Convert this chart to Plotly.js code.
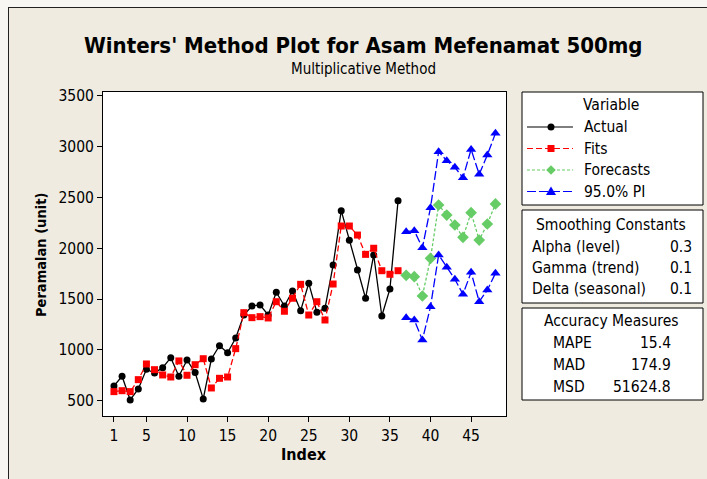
<!DOCTYPE html>
<html>
<head>
<meta charset="utf-8">
<script src="https://cdn.plot.ly/plotly-3.0.1.min.js"></script>
<style>
  html, body { margin: 0; padding: 0; background: #F7F6F2; }
  #frame { position: absolute; left: 8px; top: 7px; width: 720px; height: 490px;
           background: #EFEBE1; border: 1.5px solid #222; }
  #chart { position: absolute; left: 0; top: 0; width: 707px; height: 479px; }
</style>
</head>
<body>
<div id="frame"></div>
<div id="chart"></div>
<script>
// ---- data ----
const actualIdx = [1,2,3,4,5,6,7,8,9,10,11,12,13,14,15,16,17,18,19,20,21,22,23,24,25,26,27,28,29,30,31,32,33,34,35,36];
const actual = [645,740,507,615,809,772,825,923,740,900,776,517,910,1041,972,1117,1343,1432,1442,1343,1567,1432,1579,1386,1655,1370,1409,1835,2370,2078,1786,1508,1934,1333,1599,2468];
const fits = [589,598,589,707,861,805,753,733,891,750,854,913,625,720,733,1012,1366,1317,1327,1314,1474,1380,1508,1645,1343,1474,1294,1648,2219,2219,2130,1940,2000,1779,1744,1779];
const forecastIdx = [37,38,39,40,41,42,43,44,45,46,47,48];
const forecasts = [1734,1720,1530,1901,2426,2327,2229,2108,2350,2081,2239,2436];
const upperPI = [2163,2173,2005,2399,2950,2862,2797,2694,2973,2728,2918,3131];
const lowerPI = [1317,1294,1097,1425,1934,1813,1695,1547,1763,1474,1589,1754];
const xTicks = [1,5,10,15,20,25,30,35,40,45];
const yTicks = [500,1000,1500,2000,2500,3000,3500];
const smoothingLabels = ["Alpha (level)","Gamma (trend)","Delta (seasonal)"];
const smoothingValues = ["0.3","0.1","0.1"];
const accuracyLabels = ["MAPE","MAD","MSD"];
const accuracyValues = ["15.4","174.9","51624.8"];
const seriesNames = ["Actual","Fits","Forecasts","95.0% PI"];

// ---- styles ----
const FONT = "'DejaVu Sans Condensed', 'DejaVu Sans', sans-serif";
const C_ACT = "#000000", C_FIT = "#FF0000", C_FC = "#66CC66", C_PI = "#0000FF";
const D_FIT = "6px,3px", D_FC = "3px,2px", D_PI = "9px,3px";
const BOXFONT = 15.5;

// plot area in pixels
const L = 103, R = 506, T = 92, B = 416, W = 707, H = 479;
const px = x => (x - L) / (R - L);
const py = y => (B - y) / (B - T);

const traces = [
  {x: actualIdx, y: actual, mode: 'lines+markers', name: seriesNames[0],
   line: {color: C_ACT, width: 1.3}, marker: {symbol: 'circle', size: 7, color: C_ACT}},
  {x: actualIdx, y: fits, mode: 'lines+markers', name: seriesNames[1],
   line: {color: C_FIT, width: 1.3, dash: D_FIT}, marker: {symbol: 'square', size: 7, color: C_FIT}},
  {x: forecastIdx, y: forecasts, mode: 'lines+markers', name: seriesNames[2],
   line: {color: C_FC, width: 1.3, dash: D_FC}, marker: {symbol: 'diamond', size: 9, color: C_FC}},
  {x: forecastIdx, y: upperPI, mode: 'lines+markers', name: seriesNames[3],
   line: {color: C_PI, width: 1.3, dash: D_PI}, marker: {symbol: 'triangle-up', size: 9, color: C_PI}},
  {x: forecastIdx, y: lowerPI, mode: 'lines+markers', name: seriesNames[3], showlegend: false,
   line: {color: C_PI, width: 1.3, dash: D_PI}, marker: {symbol: 'triangle-up', size: 9, color: C_PI}}
];

const shapes = [];
const annotations = [];
function box(x0, y0, x1, y1) {
  shapes.push({type: 'rect', xref: 'paper', yref: 'paper', x0: px(x0), x1: px(x1), y0: py(y1), y1: py(y0),
    line: {color: '#000', width: 1}, fillcolor: '#FFFFFF', layer: 'below'});
}
function text(t, x, y, anchor, size, bold) {
  annotations.push({xref: 'paper', yref: 'paper', x: px(x), y: py(y), text: bold ? '<b>' + t + '</b>' : t,
    showarrow: false, xanchor: anchor, yanchor: 'middle',
    font: {family: FONT, size: size, color: '#000'}});
}

// legend box
box(522, 92, 703, 205);
text('Variable', 611, 105, 'center', BOXFONT);
const legRows = [127, 148.5, 170, 191.5];
const legColors = [C_ACT, C_FIT, C_FC, C_PI];
const legDash = ['solid', D_FIT, D_FC, D_PI];
legRows.forEach((yy, i) => {
  shapes.push({type: 'line', xref: 'paper', yref: 'paper', x0: px(527), x1: px(573), y0: py(yy), y1: py(yy),
    line: {color: legColors[i], width: 1.1, dash: legDash[i]}});
  text(seriesNames[i], 582, yy, 'left', BOXFONT);
});
// legend markers
const mx = 551;
shapes.push({type: 'circle', xref: 'paper', yref: 'paper', x0: px(mx - 3.5), x1: px(mx + 3.5),
  y0: py(legRows[0] + 3.5), y1: py(legRows[0] - 3.5), fillcolor: C_ACT, line: {width: 0}});
shapes.push({type: 'rect', xref: 'paper', yref: 'paper', x0: px(mx - 3.5), x1: px(mx + 3.5),
  y0: py(legRows[1] + 3.5), y1: py(legRows[1] - 3.5), fillcolor: C_FIT, line: {width: 0}});
(function () {
  const y = legRows[2], r = 4.8;
  shapes.push({type: 'path', xref: 'paper', yref: 'paper',
    path: `M ${px(mx)},${py(y - r)} L ${px(mx + r)},${py(y)} L ${px(mx)},${py(y + r)} L ${px(mx - r)},${py(y)} Z`,
    fillcolor: C_FC, line: {width: 0}});
  const y2 = legRows[3];
  shapes.push({type: 'path', xref: 'paper', yref: 'paper',
    path: `M ${px(mx)},${py(y2 - 5)} L ${px(mx + 5)},${py(y2 + 3.5)} L ${px(mx - 5)},${py(y2 + 3.5)} Z`,
    fillcolor: C_PI, line: {width: 0}});
})();

// smoothing constants box
box(522, 210, 703, 303);
text('Smoothing Constants', 611, 224.5, 'center', BOXFONT);
[246.5, 267.5, 288.5].forEach((yy, i) => {
  text(smoothingLabels[i], 530, yy, 'left', BOXFONT);
  text(smoothingValues[i], 694, yy, 'right', BOXFONT);
});

// accuracy box
box(522, 308, 703, 400);
text('Accuracy Measures', 611, 321, 'center', BOXFONT);
[343, 365, 387].forEach((yy, i) => {
  text(accuracyLabels[i], 551, yy, 'left', BOXFONT);
  text(accuracyValues[i], 673, yy, 'right', BOXFONT);
});

// titles
text("Winters' Method Plot for Asam Mefenamat 500mg", 363, 45, 'center', 22, true);
text('Multiplicative Method', 363, 69, 'center', 15);
text('Index', 304, 454, 'center', 16, true);
annotations.push({xref: 'paper', yref: 'paper', x: px(41), y: py(255), text: '<b>Peramalan (unit)</b>',
  textangle: -90, showarrow: false, xanchor: 'center', yanchor: 'middle',
  font: {family: FONT, size: 14.5, color: '#000'}});

const layout = {
  width: W, height: H,
  margin: {l: L, r: W - R, t: T, b: H - B, pad: 0},
  paper_bgcolor: 'rgba(0,0,0,0)',
  plot_bgcolor: '#FFFFFF',
  showlegend: false,
  font: {family: FONT, size: 15.5, color: '#000'},
  xaxis: {range: [-0.35, 49.3], tickvals: xTicks, ticks: 'outside', ticklen: 5, tickwidth: 1, tickcolor: '#000',
    showgrid: false, zeroline: false, showline: true, mirror: true, linecolor: '#000', linewidth: 1,
    tickfont: {family: FONT, size: 15.5, color: '#000'}},
  yaxis: {range: [349, 3538], tickvals: yTicks, ticks: 'outside', ticklen: 5, tickwidth: 1, tickcolor: '#000',
    showgrid: false, zeroline: false, showline: true, mirror: true, linecolor: '#000', linewidth: 1,
    tickfont: {family: FONT, size: 15.5, color: '#000'}},
  shapes: shapes,
  annotations: annotations
};

Plotly.newPlot('chart', traces, layout, {displayModeBar: false, staticPlot: true});
</script>
</body>
</html>
